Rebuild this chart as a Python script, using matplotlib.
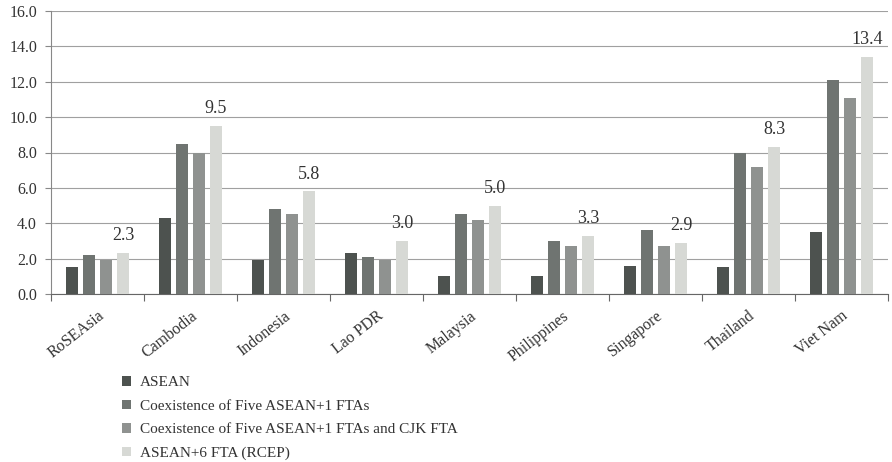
import matplotlib
matplotlib.use("Agg")
import matplotlib.pyplot as plt
import numpy as np

categories = ["RoSEAsia", "Cambodia", "Indonesia", "Lao PDR", "Malaysia",
              "Philippines", "Singapore", "Thailand", "Viet Nam"]
series_names = ["ASEAN", "Coexistence of Five ASEAN+1 FTAs",
                "Coexistence of Five ASEAN+1 FTAs and CJK FTA", "ASEAN+6 FTA (RCEP)"]
asean = [1.5, 4.3, 1.9, 2.3, 1.0, 1.0, 1.6, 1.5, 3.5]
five_fta = [2.2, 8.5, 4.8, 2.1, 4.5, 3.0, 3.6, 8.0, 12.1]
five_cjk = [1.9, 8.0, 4.5, 1.9, 4.2, 2.7, 2.7, 7.2, 11.1]
rcep = [2.3, 9.5, 5.8, 3.0, 5.0, 3.3, 2.9, 8.3, 13.4]
yticks = [0, 2, 4, 6, 8, 10, 12, 14, 16]

colors = ["#4d524f", "#6f7471", "#8f9290", "#d7d9d5"]

plt.rcParams['font.family'] = ['Liberation Serif', 'DejaVu Serif']

fig = plt.figure(figsize=(8.92, 4.62), dpi=100)
ax = fig.add_axes([51/892, 1-294/462, (888-51)/892, (294-11)/462])

x = np.arange(len(categories))
spacing = 0.183
width = 0.132
all_series = [asean, five_fta, five_cjk, rcep]
handles = []
for i, (vals, c) in enumerate(zip(all_series, colors)):
    b = ax.bar(x + (i - 1.5) * spacing, vals, width, color=c, zorder=3,
               label=series_names[i])
    handles.append(b)

for xi, v in zip(x, rcep):
    ax.text(xi + 1.5 * spacing, v + 0.5, f"{v:.1f}", ha='center', va='bottom',
            fontsize=13, color='#333333', zorder=4)

ax.set_xlim(-0.5, len(categories) - 0.5)
ax.set_ylim(0, 16)
ax.set_yticks(yticks)
ax.set_yticklabels([f"{t:.1f}" for t in yticks], fontsize=11.5, color='#333333')
ax.yaxis.grid(True, color='#a0a0a0', linewidth=0.8, zorder=0)
ax.set_axisbelow(True)

ax.set_xticks(np.arange(len(categories) + 1) - 0.5)
ax.set_xticklabels([])
ax.set_xticks(x, minor=True)
ax.set_xticklabels(categories, minor=True, rotation=38, ha='right',
                   rotation_mode='anchor', fontsize=11.5, color='#333333')
ax.tick_params(axis='x', which='minor', length=0, pad=10)
ax.tick_params(axis='x', which='major', length=5, color='#666666', direction='out')
ax.tick_params(axis='y', length=4, color='#888888', pad=6)

for s in ['top', 'right']:
    ax.spines[s].set_visible(False)
ax.spines['left'].set_color('#888888')
ax.spines['bottom'].set_color('#666666')

leg = fig.legend(handles=handles, labels=series_names, loc='upper left',
                 bbox_to_anchor=(116/892, 1-370/462), frameon=False,
                 fontsize=11, handlelength=0.6, handleheight=0.6,
                 labelspacing=0.67, handletextpad=0.55, borderaxespad=0)
for t in leg.get_texts():
    t.set_color('#333333')

fig.savefig("out.png", dpi=100)
